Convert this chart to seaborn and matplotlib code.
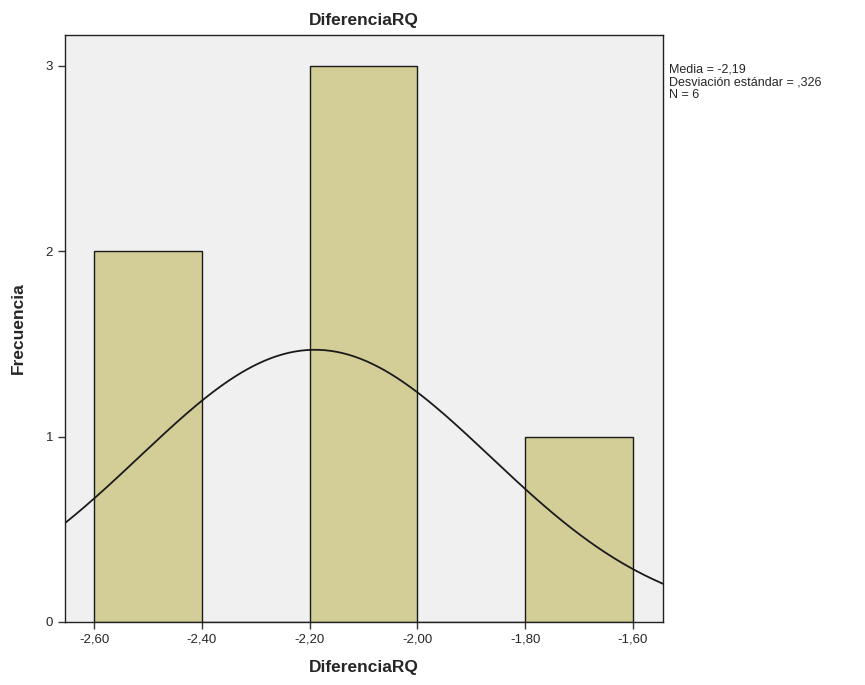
import numpy as np
import pandas as pd
import matplotlib
matplotlib.use('Agg')
import matplotlib.pyplot as plt
import seaborn as sns

# Histogram data
bin_edges = [-2.60, -2.40, -2.20, -2.00, -1.80, -1.60]
bin_counts = [2, 0, 3, 0, 1]
media = -2.19
desviacion = 0.326
n = 6
tick_vals = [-2.60, -2.40, -2.20, -2.00, -1.80, -1.60]

sns.set_style('white')
plt.rcParams['font.family'] = ['Liberation Sans', 'DejaVu Sans']

centers = [(a + b) / 2 for a, b in zip(bin_edges[:-1], bin_edges[1:])]
df = pd.DataFrame({'DiferenciaRQ': centers, 'Frecuencia': bin_counts})

fig = plt.figure(figsize=(8.65, 6.85), dpi=100)
ax = fig.add_axes([0.0751, 0.092, 0.6914, 0.857])
ax.set_facecolor('#f0f0f0')

sns.histplot(data=df, x='DiferenciaRQ', weights='Frecuencia', bins=bin_edges,
             color='#d3ce97', alpha=1, edgecolor='#1a1a1a', linewidth=1.0, ax=ax)

# normal curve scaled to counts
xs = np.linspace(-2.654, -1.544, 300)
width = bin_edges[1] - bin_edges[0]
ys = n * width / (desviacion * np.sqrt(2 * np.pi)) * np.exp(-0.5 * ((xs - media) / desviacion) ** 2)
sns.lineplot(x=xs, y=ys, color='#1a1a1a', linewidth=1.3, ax=ax)

ax.set_xlim(-2.654, -1.544)
ax.set_ylim(0, 3.167)
ax.set_xticks(tick_vals)
ax.set_xticklabels([f'{v:.2f}'.replace('.', ',') for v in tick_vals], fontsize=9.5)
ax.set_yticks([0, 1, 2, 3])
ax.set_yticklabels(['0', '1', '2', '3'], fontsize=9.5)
ax.tick_params(axis='both', direction='out', length=5, width=1, color='#333333', bottom=True, left=True)

for side in ['left', 'bottom', 'right', 'top']:
    ax.spines[side].set_color('#222222')
    ax.spines[side].set_linewidth(1.0)

ax.set_xlabel('DiferenciaRQ', fontsize=12.5, fontweight='bold', labelpad=10)
ax.set_ylabel('Frecuencia', fontsize=12.5, fontweight='bold', labelpad=14)
ax.set_title('DiferenciaRQ', fontsize=12.5, fontweight='bold', pad=7)

fig.text(0.7735, 0.907, 'Media = -2,19\nDesviación estándar = ,326\nN = 6',
         fontsize=9, va='top', ha='left', linespacing=1.08)

plt.savefig('out.png', dpi=100)
plt.close()
